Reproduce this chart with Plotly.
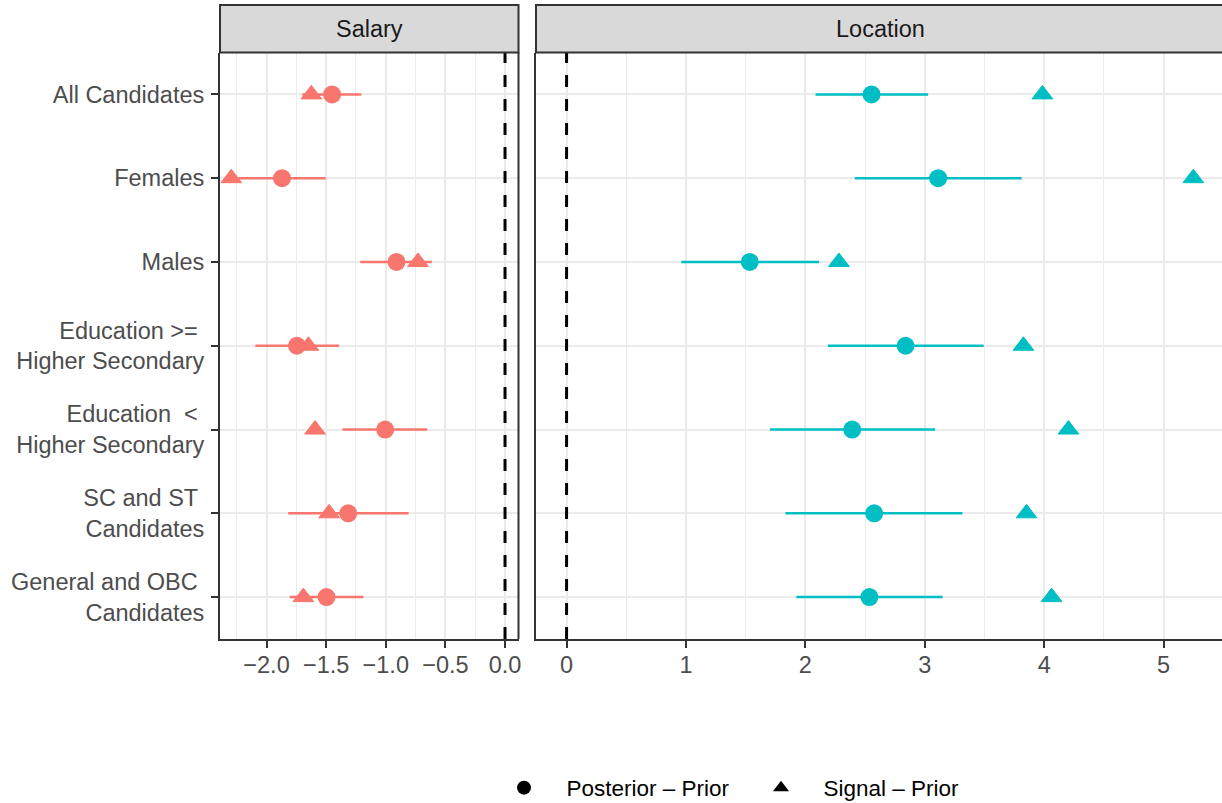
import plotly.graph_objects as go

W, H = 1222, 803

categories = [
    "All Candidates",
    "Females",
    "Males",
    "Education &gt;= <br>Higher Secondary",
    "Education  &lt; <br>Higher Secondary",
    "SC and ST <br>Candidates",
    "General and OBC <br>Candidates",
]

# Salary panel
sal_post = [-1.45, -1.87, -0.91, -1.745, -1.005, -1.315, -1.497]
sal_lo = [-1.70, -2.233, -1.214, -2.093, -1.363, -1.818, -1.806]
sal_hi = [-1.205, -1.503, -0.613, -1.391, -0.652, -0.809, -1.188]
sal_sig = [-1.624, -2.295, -0.730, -1.649, -1.593, -1.475, -1.691]

# Location panel
loc_post = [2.554, 3.112, 1.534, 2.839, 2.392, 2.576, 2.536]
loc_lo = [2.085, 2.414, 0.961, 2.188, 1.704, 1.833, 1.925]
loc_hi = [3.028, 3.811, 2.115, 3.493, 3.086, 3.316, 3.149]
loc_sig = [3.985, 5.249, 2.281, 3.826, 4.203, 3.852, 4.062]

sal_ticks = [-2.0, -1.5, -1.0, -0.5, 0.0]
sal_ticktext = ["\u22122.0", "\u22121.5", "\u22121.0", "\u22120.5", "0.0"]
sal_minor = [-2.25, -1.75, -1.25, -0.75, -0.25]
loc_ticks = [0, 1, 2, 3, 4, 5]
loc_ticktext = ["0", "1", "2", "3", "4", "5"]
loc_minor = [0.5, 1.5, 2.5, 3.5, 4.5, 5.5]

legend_names = ["Posterior \u2013 Prior", "Signal \u2013 Prior"]

RED = "#F8766D"
TEAL = "#00BFC4"
FONT = "Liberation Sans"
BORDER = "#333333"
GRID = "#EBEBEB"

def px_x(p):
    return p / W

def px_y(p):
    return (H - p) / H

fig = go.Figure()

def add_panel(post, lo, hi, sig, color, xa, ya):
    fig.add_trace(go.Scatter(
        x=post, y=categories, xaxis=xa, yaxis=ya, mode="markers",
        marker=dict(symbol="circle", size=18, color=color),
        error_x=dict(type="data", symmetric=False,
                     array=[h - p for h, p in zip(hi, post)],
                     arrayminus=[p - l for p, l in zip(post, lo)],
                     color=color, thickness=2.5, width=0),
        showlegend=False, hoverinfo="x+y"))
    fig.add_trace(go.Scatter(
        x=sig, y=categories, xaxis=xa, yaxis=ya, mode="markers",
        marker=dict(symbol="triangle-up", size=18, color=color,
                    line=dict(color=color, width=1)),
        showlegend=False, hoverinfo="x+y"))

add_panel(sal_post, sal_lo, sal_hi, sal_sig, RED, "x", "y")
add_panel(loc_post, loc_lo, loc_hi, loc_sig, TEAL, "x2", "y2")

# legend entries
fig.add_trace(go.Scatter(x=[None], y=[None], mode="markers", name="\u2003" + legend_names[0],
                         marker=dict(symbol="circle", size=14, color="black")))
fig.add_trace(go.Scatter(x=[None], y=[None], mode="markers", name="\u2003" + legend_names[1],
                         marker=dict(symbol="triangle-up", size=14, color="black")))

ydom = [px_y(639), px_y(52.5)]
tickfont = dict(family=FONT, size=23.5, color="#4D4D4D")

common_x = dict(
    showgrid=True, gridcolor=GRID, gridwidth=2, zeroline=False,
    ticks="outside", ticklen=7, tickwidth=2, tickcolor=BORDER,
    showline=True, linecolor=BORDER, linewidth=2,
    tickfont=tickfont, ticklabelstandoff=-3,
)

fig.update_layout(
    width=W, height=H, autosize=False,
    margin=dict(l=0, r=0, t=0, b=0, autoexpand=False),
    paper_bgcolor="white", plot_bgcolor="white",
    font=dict(family=FONT),
    xaxis=dict(domain=[px_x(220), px_x(518.5)], range=[-2.39, 0.113],
               tickmode="array", tickvals=sal_ticks, ticktext=sal_ticktext,
               minor=dict(tickmode="array", tickvals=sal_minor, showgrid=True,
                          gridcolor=GRID, gridwidth=1, ticks=""),
               anchor="y", **common_x),
    xaxis2=dict(domain=[px_x(536), 1.0], range=[-0.256, 5.489],
                tickmode="array", tickvals=loc_ticks, ticktext=loc_ticktext,
                minor=dict(tickmode="array", tickvals=loc_minor, showgrid=True,
                           gridcolor=GRID, gridwidth=1, ticks=""),
                anchor="y2", **common_x),
    yaxis=dict(domain=ydom, type="category", categoryorder="array",
               categoryarray=categories, range=[6.5, -0.5],
               showgrid=True, gridcolor=GRID, gridwidth=2, zeroline=False,
               ticks="outside", ticklen=7, tickwidth=2, tickcolor=BORDER,
               showline=True, linecolor=BORDER, linewidth=2,
               tickfont=tickfont, ticklabelstandoff=2, anchor="x"),
    yaxis2=dict(domain=ydom, type="category", categoryorder="array",
                categoryarray=categories, range=[6.5, -0.5], matches="y",
                showgrid=True, gridcolor=GRID, gridwidth=2, zeroline=False,
                ticks="", showticklabels=False,
                showline=True, linecolor=BORDER, linewidth=2,
                anchor="x2"),
    legend=dict(orientation="h", x=px_x(504), xanchor="left",
                y=px_y(788), yanchor="middle",
                entrywidth=212, entrywidthmode="pixels",
                font=dict(family=FONT, size=22.5, color="black"),
                itemsizing="trace", bgcolor="rgba(0,0,0,0)"),
)

shapes = []
# right border of the Salary panel
shapes.append(dict(type="line", xref="x domain", yref="y domain", x0=1, x1=1, y0=0, y1=1,
                   line=dict(color=BORDER, width=2), layer="above"))
# zero reference lines
for xr, yr in [("x", "y domain"), ("x2", "y2 domain")]:
    shapes.append(dict(type="line", xref=xr, yref=yr, x0=0, x1=0, y0=0, y1=1,
                       line=dict(color="black", width=3, dash="12px,12px"), layer="above"))
# strips
for x0, x1 in [(220, 518.5), (536, 1240)]:
    shapes.append(dict(type="rect", xref="paper", yref="paper",
                       x0=px_x(x0), x1=px_x(x1), y0=px_y(52.5), y1=px_y(5),
                       fillcolor="#D9D9D9", line=dict(color=BORDER, width=2), layer="above"))
fig.update_layout(shapes=shapes)

fig.add_annotation(text="Salary", xref="paper", yref="paper", x=px_x(369.25), y=px_y(28.5),
                   showarrow=False, font=dict(family=FONT, size=23.5, color="#1A1A1A"),
                   xanchor="center", yanchor="middle")
fig.add_annotation(text="Location", xref="paper", yref="paper", x=px_x(880), y=px_y(28.5),
                   showarrow=False, font=dict(family=FONT, size=23.5, color="#1A1A1A"),
                   xanchor="center", yanchor="middle")

fig.write_html("out.html")
